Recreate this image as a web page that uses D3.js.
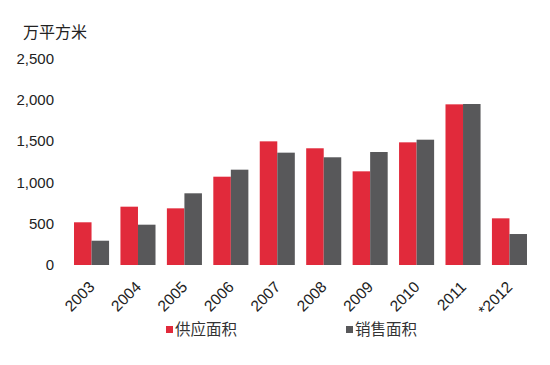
<!DOCTYPE html>
<html>
<head>
<meta charset="utf-8">
<script src="https://cdn.jsdelivr.net/npm/d3@7"></script>
<style>
  body { margin: 0; background: #fff; }
  .chart { width: 550px; height: 365px; }
  text { font-family: "Liberation Sans", Arial, "Noto Sans CJK SC", sans-serif; }
</style>
</head>
<body>
<div class="chart"></div>
<script>
// data
let years = ["2003", "2004", "2005", "2006", "2007", "2008", "2009", "2010", "2011", "*2012"];
let supply = [517, 706, 686, 1069, 1497, 1413, 1134, 1485, 1945, 565];
let sales = [294, 488, 868, 1154, 1360, 1304, 1368, 1517, 1949, 375];
let yTicks = [0, 500, 1000, 1500, 2000, 2500];
let seriesNames = ["供应面积", "销售面积"];
let colors = ["#e12a3b", "#58585a"];

let chart = {};

chart.svg = d3.select(".chart").append("svg")
    .attr("width", 550)
    .attr("height", 365);

chart.x = d3.scaleBand()
    .domain(years)
    .range([68.3, 532.7])
    .paddingInner(0.245)
    .paddingOuter(0.123);

chart.x1 = d3.scaleBand()
    .domain([0, 1])
    .range([0, chart.x.bandwidth()]);

chart.y = d3.scaleLinear()
    .domain([0, 2500])
    .range([265, 58.5]);

// unit label
chart.svg.append("text")
    .attr("x", 23)
    .attr("y", 38)
    .attr("font-size", 16)
    .attr("fill", "#222")
    .attr("font-family", "Noto Sans CJK SC")
    .text("万平方米");

// y axis labels, no line
let yAxis = d3.axisLeft(chart.y)
    .tickValues(yTicks)
    .tickFormat(d3.format(","))
    .tickSize(0)
    .tickPadding(0);

let yg = chart.svg.append("g")
    .attr("transform", "translate(54,0)")
    .call(yAxis);
yg.select(".domain").remove();
yg.selectAll("text")
    .attr("font-size", 15)
    .attr("fill", "#222")
    .style("font-family", "Liberation Sans, Arial, sans-serif");

// bars
let groups = chart.svg.selectAll("g.year")
    .data(years.map((y, i) => ({ year: y, vals: [supply[i], sales[i]] })))
    .enter().append("g")
    .attr("class", "year")
    .attr("transform", d => `translate(${chart.x(d.year)},0)`);

groups.selectAll("rect")
    .data(d => d.vals)
    .enter().append("rect")
    .attr("x", (d, i) => chart.x1(i))
    .attr("width", chart.x1.bandwidth())
    .attr("y", d => chart.y(d))
    .attr("height", d => chart.y(0) - chart.y(d))
    .attr("fill", (d, i) => colors[i]);

// x axis labels, rotated
let xAxis = d3.axisBottom(chart.x).tickSize(0).tickPadding(0);
let xg = chart.svg.append("g")
    .attr("transform", "translate(0,265)")
    .call(xAxis);
xg.select(".domain").remove();
xg.selectAll("text")
    .attr("font-size", 15.5)
    .attr("fill", "#222")
    .style("font-family", "Liberation Sans, Arial, sans-serif")
    .attr("text-anchor", "end")
    .attr("dy", null)
    .attr("y", 0)
    .attr("transform", "translate(4,23) rotate(-45)");

// legend
let legendX = [166, 346];
let legend = chart.svg.selectAll("g.legend")
    .data(seriesNames)
    .enter().append("g")
    .attr("class", "legend")
    .attr("transform", (d, i) => `translate(${legendX[i]},326)`);

legend.append("rect")
    .attr("width", 7)
    .attr("height", 7)
    .attr("fill", (d, i) => colors[i]);

legend.append("text")
    .attr("x", 9)
    .attr("y", 9)
    .attr("font-size", 15.5)
    .attr("fill", "#333")
    .attr("font-family", "Noto Sans CJK SC")
    .text(d => d);
</script>
</body>
</html>
